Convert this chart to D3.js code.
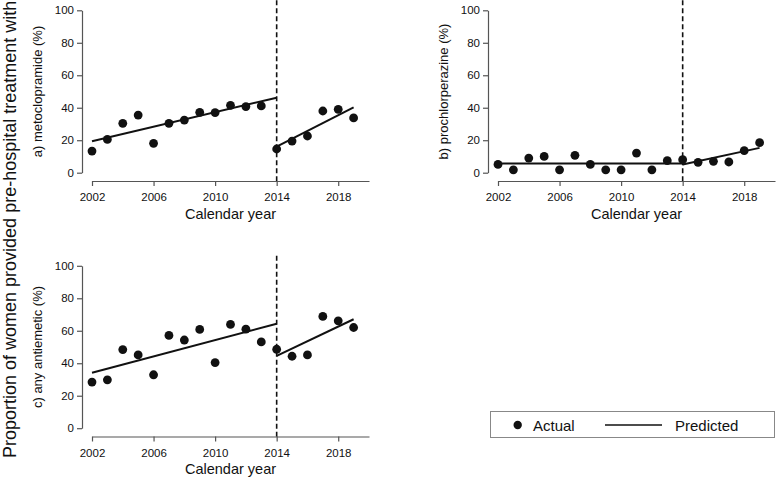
<!DOCTYPE html>
<html>
<head>
<meta charset="utf-8">
<script src="https://cdn.jsdelivr.net/npm/d3@7"></script>
<style>
  html, body { margin: 0; padding: 0; background: #fff; }
  svg { display: block; font-family: "Liberation Sans", Arial, Helvetica, sans-serif; }
</style>
</head>
<body>
<svg id="chart" width="777" height="478"></svg>
<script>
// ---- Data ----
const years = [2002, 2003, 2004, 2005, 2006, 2007, 2008, 2009, 2010, 2011, 2012, 2013, 2014, 2015, 2016, 2017, 2018, 2019];
const metoclopramide = [13.3, 20.5, 30.4, 35.5, 18.1, 30.4, 32.4, 37.2, 37.0, 41.5, 40.7, 41.1, 14.6, 19.5, 22.6, 38.0, 39.0, 33.7];
const prochlorperazine = [5.1, 1.8, 9.0, 10.0, 1.8, 10.7, 5.1, 1.8, 1.8, 12.1, 1.8, 7.4, 8.0, 6.4, 7.0, 6.6, 13.6, 18.5];
const antiemetic = [28.4, 29.8, 48.4, 45.1, 32.9, 57.1, 54.3, 60.8, 40.4, 63.9, 61.0, 53.1, 48.6, 44.3, 45.1, 68.8, 66.1, 62.0];

const preYears = [2002, 2014];
const postYears = [2014, 2019];
const metoPredPre = [19.4, 46.2];
const metoPredPost = [16.0, 40.2];
const prochPredPre = [5.7, 5.7];
const prochPredPost = [5.1, 15.3];
const antiPredPre = [34.1, 64.3];
const antiPredPost = [44.5, 67.1];

const xTicks = [2002, 2006, 2010, 2014, 2018];
const yTicks = [0, 20, 40, 60, 80, 100];
const interruptionYear = 2014;

const panelTitles = ["a) metoclopramide (%)", "b) prochlorperazine (%)", "c) any antiemetic (%)"];
const xLabel = "Calendar year";
const mainYLabel = "Proportion of women provided pre-hospital treatment with";
const legendLabels = ["Actual", "Predicted"];

// ---- Layout ----
const svg = d3.select("#chart");
const panels = [
  { ox: 0, oy: 0, title: panelTitles[0], actual: metoclopramide, pre: metoPredPre, post: metoPredPost },
  { ox: 406, oy: 0, title: panelTitles[1], actual: prochlorperazine, pre: prochPredPre, post: prochPredPost },
  { ox: 0, oy: 255.5, title: panelTitles[2], actual: antiemetic, pre: antiPredPre, post: antiPredPost }
];

const ink = "#111";
const axisInk = "#555";

panels.forEach(p => {
  const g = svg.append("g").attr("transform", `translate(${p.ox},${p.oy})`);
  const x = d3.scaleLinear().domain([2002, 2020]).range([92, 369]);
  const y = d3.scaleLinear().domain([0, 100]).range([172.7, 10.3]);
  const axisY = 82, axisX = 181;

  // y axis
  const ya = g.append("g").attr("transform", `translate(${axisY},0)`)
    .call(d3.axisLeft(y).tickValues(yTicks).tickSize(5).tickSizeOuter(0).tickPadding(3));
  // x axis
  const xa = g.append("g").attr("transform", `translate(0,${axisX})`)
    .call(d3.axisBottom(x).tickValues(xTicks).tickSize(5).tickSizeOuter(0).tickPadding(7).tickFormat(d3.format("d")));
  [ya, xa].forEach(a => {
    a.select(".domain").attr("stroke", axisInk).attr("stroke-width", 1.2);
    a.selectAll(".tick line").attr("stroke", axisInk).attr("stroke-width", 1.2);
    a.selectAll(".tick text").attr("fill", ink).style("font-size", "11.5px");
  });

  // x label
  g.append("text").attr("x", (x.range()[0] + x.range()[1]) / 2).attr("y", 218.5)
    .attr("text-anchor", "middle").attr("fill", ink).style("font-size", "14.5px").text(xLabel);

  // panel y label
  const cy = (y(0) + y(100)) / 2;
  g.append("text").attr("transform", `translate(${axisY - 40},${cy}) rotate(-90)`)
    .attr("text-anchor", "middle").attr("fill", ink).style("font-size", "13px").text(p.title);

  // dashed interruption line
  g.append("line").attr("x1", x(interruptionYear)).attr("x2", x(interruptionYear))
    .attr("y1", y(100) - 10).attr("y2", axisX)
    .attr("stroke", ink).attr("stroke-width", 1.6).attr("stroke-dasharray", "5,3");

  // predicted lines
  const line = d3.line().x(d => x(d[0])).y(d => y(d[1]));
  [[preYears, p.pre], [postYears, p.post]].forEach(([yrs, vals]) => {
    g.append("path").datum(yrs.map((yr, i) => [yr, vals[i]]))
      .attr("d", line).attr("fill", "none").attr("stroke", ink).attr("stroke-width", 2);
  });

  // actual points
  g.selectAll("circle.pt").data(years.map((yr, i) => [yr, p.actual[i]])).enter()
    .append("circle").attr("class", "pt")
    .attr("cx", d => x(d[0])).attr("cy", d => y(d[1])).attr("r", 4.4).attr("fill", ink);
});

// main y label
svg.append("text").attr("transform", "translate(16,458) rotate(-90)")
  .attr("text-anchor", "start").attr("fill", ink).style("font-size", "18px").text(mainYLabel);

// legend
const lg = svg.append("g");
lg.append("rect").attr("x", 490.5).attr("y", 411.5).attr("width", 284).attr("height", 26)
  .attr("fill", "#fff").attr("stroke", "#888").attr("stroke-width", 1);
lg.append("circle").attr("cx", 517.7).attr("cy", 425).attr("r", 4.2).attr("fill", ink);
lg.append("text").attr("x", 533).attr("y", 430.5).attr("fill", ink).style("font-size", "15px").text(legendLabels[0]);
lg.append("line").attr("x1", 605).attr("x2", 662).attr("y1", 425).attr("y2", 425).attr("stroke", ink).attr("stroke-width", 1.6);
lg.append("text").attr("x", 675).attr("y", 430.5).attr("fill", ink).style("font-size", "15px").text(legendLabels[1]);
</script>
</body>
</html>
